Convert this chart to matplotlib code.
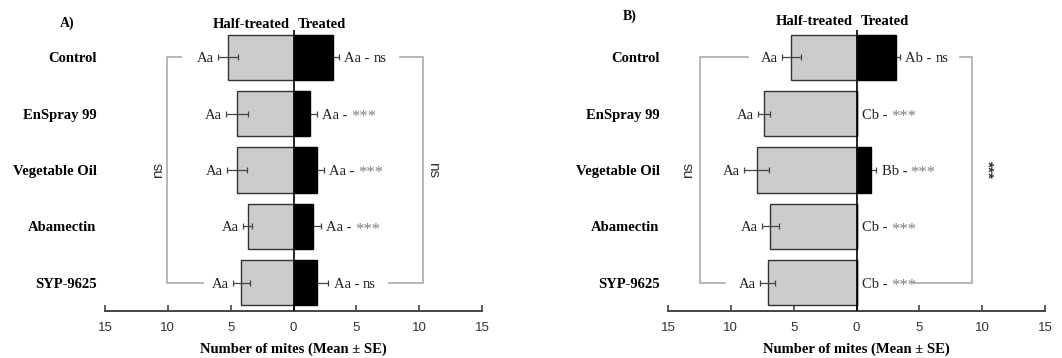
import matplotlib
matplotlib.use("Agg")
import matplotlib.pyplot as plt
import numpy as np

categories = ["Control", "EnSpray 99", "Vegetable Oil", "Abamectin", "SYP-9625"]

a_half = [5.2, 4.5, 4.5, 3.65, 4.15]
a_half_se = [0.8, 0.85, 0.8, 0.35, 0.65]
a_treat = [3.15, 1.35, 1.85, 1.55, 1.85]
a_treat_se = [0.45, 0.5, 0.55, 0.6, 0.9]
a_half_lab = ["Aa", "Aa", "Aa", "Aa", "Aa"]
a_treat_lab = ["Aa", "Aa", "Aa", "Aa", "Aa"]
a_treat_sig = ["ns", "***", "***", "***", "ns"]

b_half = [5.2, 7.35, 7.95, 6.85, 7.05]
b_half_se = [0.75, 0.5, 1.0, 0.65, 0.6]
b_treat = [3.15, 0.0, 1.15, 0.0, 0.0]
b_treat_se = [0.3, 0.0, 0.4, 0.0, 0.0]
b_half_lab = ["Aa", "Aa", "Aa", "Aa", "Aa"]
b_treat_lab = ["Ab", "Cb", "Bb", "Cb", "Cb"]
b_treat_sig = ["ns", "***", "***", "***", "***"]

xticks = [-15, -10, -5, 0, 5, 10, 15]
xticklabels = ["15", "10", "5", "0", "5", "10", "15"]

SERIF = "Liberation Serif"
SANS = "Liberation Sans"

W, H = 1062, 358
fig = plt.figure(figsize=(W / 100, H / 100), dpi=100)


def px_axes(x0, x1, ytop, ybot):
    return fig.add_axes([x0 / W, 1 - ybot / H, (x1 - x0) / W, (ybot - ytop) / H])


def panel(ax, half, half_se, treat, treat_se, half_lab, treat_lab, treat_sig,
          letter, letter_xy, left_br, right_br, right_sym, head_y):
    y = np.arange(len(categories))
    ax.barh(y, [-v for v in half], height=0.8, color="#cccccc",
            edgecolor="#333333", linewidth=1.0, zorder=2)
    ax.barh(y, treat, height=0.8, color="black", edgecolor="black",
            linewidth=1.0, zorder=2)
    for i in range(len(categories)):
        ax.errorbar(-half[i], y[i], xerr=half_se[i], fmt="none",
                    ecolor="#444444", elinewidth=0.9, capsize=2.5,
                    capthick=0.9, zorder=3)
        if treat_se[i] > 0:
            ax.errorbar(treat[i], y[i], xerr=treat_se[i], fmt="none",
                        ecolor="#444444", elinewidth=0.9, capsize=2.5,
                        capthick=0.9, zorder=1)
        ax.annotate(half_lab[i], xy=(-half[i] - half_se[i], y[i]),
                    xytext=(-3, 0), textcoords="offset points",
                    ha="right", va="center_baseline", fontsize=10.5,
                    family=SERIF, color="#222222")
        t = ax.annotate(treat_lab[i] + " - ", xy=(treat[i] + treat_se[i], y[i]),
                        xytext=(4, 0), textcoords="offset points",
                        ha="left", va="center_baseline", fontsize=10.5,
                        family=SERIF, color="#222222")
        sig = treat_sig[i]
        if sig == "***":
            ax.annotate(sig, xy=(1, 0), xycoords=t, xytext=(0, -2.5),
                        textcoords="offset points", ha="left",
                        va="bottom", fontsize=12, family=SERIF,
                        color="#808080")
        else:
            ax.annotate(sig, xy=(1, 0), xycoords=t, ha="left",
                        va="bottom", fontsize=10.5, family=SERIF,
                        color="#222222")
    ax.axvline(0, color="black", lw=1.2, zorder=4)
    ax.set_xlim(-15, 15)
    ax.set_ylim(4.5, -0.48)
    ax.set_yticks(y)
    ax.set_yticklabels(categories, family=SERIF, fontweight="bold",
                       fontsize=10.5)
    ax.tick_params(axis="y", length=0, pad=6)
    ax.set_xticks(xticks)
    ax.set_xticklabels(xticklabels, family=SANS, fontsize=9.5,
                       color="#333333")
    ax.tick_params(axis="x", direction="in", length=4, width=1.2,
                   color="#444444", pad=8)
    for s in ["left", "top", "right"]:
        ax.spines[s].set_visible(False)
    ax.spines["bottom"].set_color("#444444")
    ax.spines["bottom"].set_linewidth(1.4)
    ax.set_xlabel("Number of mites (Mean \u00b1 SE)", family=SERIF,
                  fontweight="bold", fontsize=10.5, labelpad=6)
    ax.text(-0.3, head_y, "Half-treated", ha="right", va="center",
            family=SERIF, fontweight="bold", fontsize=10.5)
    ax.text(0.3, head_y, "Treated", ha="left", va="center",
            family=SERIF, fontweight="bold", fontsize=10.5)
    ax.text(letter_xy[0], letter_xy[1], letter, ha="left", va="center",
            family=SERIF, fontweight="bold", fontsize=10, clip_on=False)
    # brackets
    lx, l_top, l_bot, l_txt = left_br
    ax.plot([l_top, lx, lx, l_bot], [0, 0, 4, 4], color="#aaaaaa",
            lw=1.2, clip_on=False, zorder=0)
    ax.text(l_txt, 2, "ns", rotation=90, ha="center", va="center",
            family=SANS, fontsize=11, color="#333333")
    rx, r_top, r_bot, r_txt = right_br
    ax.plot([r_top, rx, rx, r_bot], [0, 0, 4, 4], color="#aaaaaa",
            lw=1.2, clip_on=False, zorder=0)
    ax.text(r_txt, 2, right_sym, rotation=-90, ha="center", va="center",
            family=SANS, fontsize=11, color="#333333",
            fontweight="bold" if right_sym == "***" else "normal")


axA = px_axes(105, 482, 30, 311)
panel(axA, a_half, a_half_se, a_treat, a_treat_se, a_half_lab, a_treat_lab,
      a_treat_sig, "A)", (-18.6, -0.6), (-10.06, -8.95, -7.2, -10.8),
      (10.3, 8.47, 7.6, 11.1), "ns", -0.58)

axB = px_axes(668, 1045, 30, 311)
panel(axB, b_half, b_half_se, b_treat, b_treat_se, b_half_lab, b_treat_lab,
      b_treat_sig, "B)", (-18.6, -0.72), (-12.43, -8.67, -10.5, -13.4),
      (9.23, 8.2, 4.6, 10.4), "***", -0.63)

fig.savefig("out.png", dpi=100)
